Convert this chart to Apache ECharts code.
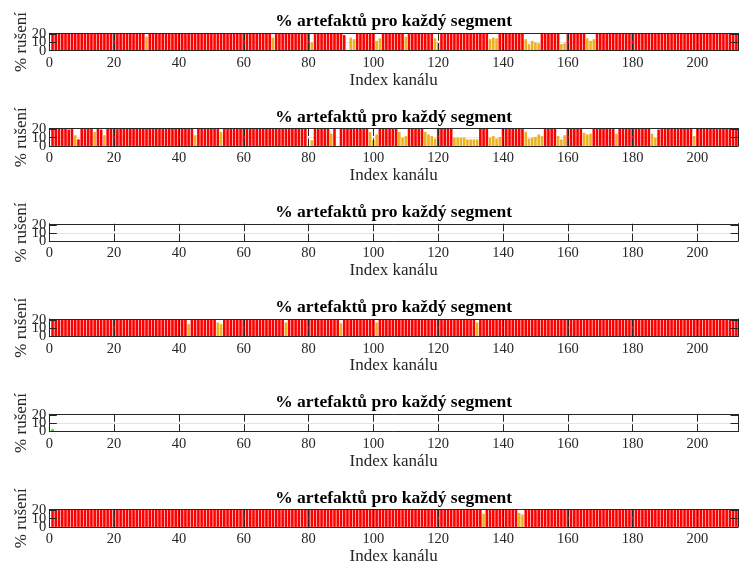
<!DOCTYPE html>
<html><head><meta charset="utf-8">
<script src="https://cdn.jsdelivr.net/npm/echarts@6/dist/echarts.min.js"></script>
<style>html,body{margin:0;padding:0;background:#fff}#c{width:739px;height:569px}</style>
</head><body><div id="c"></div><script>
// ---- data: % of artefacts per channel (index = channel - 1) ----
const titleText = '% artefaktů pro každý segment';
const xLabel = 'Index kanálu';
const yLabel = '% rušení';
const xTicks = [0, 20, 40, 60, 80, 100, 120, 140, 160, 180, 200];
const yTicksOuter = [0, 20];
const yTicksMid = [10];
const refLevel = 10;

const seg1_pct = [
25,25,25,25,25,25,25,25,25,25, 25,25,25,25,25,25,25,25,25,25,
25,25,25,25,25,25,25,25,25,17, 25,25,25,25,25,25,25,25,25,25,
20.5,25,25,25,25,25,25,25,25,20.5, 25,25,25,25,25,25,25,25,25,25,
25,25,25,25,25,25,25,25,16,25, 25,25,25,25,25,25,25,25,25,25,
10,25,25,25,25,25,25,25,25,25, 19,0,16,14,25,25,25,25,25,25,
12,15,25,25,25,25,25,25,25,17, 25,25,25,25,25,25,25,25,15,10,
25,25,25,25,25,25,25,25,25,25, 25,25,25,25,25,14,16,15,25,25,
25,25,25,25,25,25,14,8,12,10, 9,25,25,25,25,25,25,8,9,25,
25,25,25,25,25,15,12,14,25,25, 25,25,25,25,20.5,20.5,25,25,25,25,
25,25,25,25,25,25,25,25,25,25, 25,25,25,25,25,25,25,25,25,25,
25,25,25,25,25,25,25,25,25,25, 25,25];
const seg1_medium = [30,69,81,93,94,101,102,110,119,120,136,137,138,147,148,149,150,151,158,159,166,167,168];
const seg1_low = [];

const seg2_pct = [
25,25,25,25,25,20,25,13,8,25, 25,25,25,17,25,20,13,25,25,25,
20.5,25,25,25,25,25,25,25,25,25, 25,25,25,25,25,25,25,25,25,25,
25,25,25,25,13,25,25,25,25,25, 25,25,17,25,25,25,25,25,25,25,
25,25,25,25,25,25,25,25,25,25, 25,25,25,25,25,25,25,25,25,0,
7,25,25,25,25,25,15,25,0,25, 25,25,25,25,25,25,25,25,17,7,
14,25,25,25,25,25,25,17,10,12, 25,25,25,25,25,17,14,12,9,25,
25,25,25,25,10,10,10,10,8,8, 8,8,25,25,25,10,12,9,11,25,
25,25,25,25,25,25,17,9,10,11, 14,12,25,25,25,25,12,8,13,25,
25,25,25,25,16,14,15,25,25,25, 25,25,25,25,15,25,25,25,25,25,
25,25,25,25,25,15,10,20,25,25, 25,25,25,25,25,25,25,25,12,25,
25,25,25,25,25,25,25,25,25,25, 25,25];
const seg2_medium = [8,14,17,45,53,81,87,99,100,101,108,109,110,116,117,118,119,125,126,127,128,129,130,131,132,136,137,138,139,147,148,149,150,151,152,157,158,159,165,166,167,175,186,187,199];
const seg2_low = [];

const seg3_pct = [
0,0,0,0,0,0,0,0,0,0, 0,0,0,0,0,0,0,0,0,0, 0,0,0,0,0,0,0,0,0,0, 0,0,0,0,0,0,0,0,0,0,
0,0,0,0,0,0,0,0,0,0, 0,0,0,0,0,0,0,0,0,0, 0,0,0,0,0,0,0,0,0,0, 0,0,0,0,0,0,0,0,0,0,
0,0,0,0,0,0,0,0,0,0, 0,0,0,0,0,0,0,0,0,0, 0,0,0,0,0,0,0,0,0,0, 0,0,0,0,0,0,0,0,0,0,
0,0,0,0,0,0,0,0,0,0, 0,0,0,0,0,0,0,0,0,0, 0,0,0,0,0,0,0,0,0,0, 0,0,0,0,0,0,0,0,0,0,
0,0,0,0,0,0,0,0,0,0, 0,0,0,0,0,0,0,0,0,0, 0,0,0,0,0,0,0,0,0,0, 0,0,0,0,0,0,0,0,0,0,
0,0,0,0,0,0,0,0,0,0, 0,0];
const seg3_medium = [];
const seg3_low = [];

const seg4_pct = [
25,25,25,25,25,25,25,25,25,25, 25,25,25,25,25,25,25,25,25,25,
25,25,25,25,25,25,25,25,25,25, 25,25,25,25,25,25,25,25,25,25,
25,25,15,25,25,25,25,25,25,25, 25,17,15,25,25,25,25,25,25,25,
25,25,25,25,25,25,20,25,25,25, 25,25,17,25,25,25,25,25,25,25,
25,25,25,25,25,25,25,25,25,16, 25,25,25,25,25,25,25,25,25,25,
17,25,25,25,25,25,25,25,25,25, 25,25,25,25,25,25,25,25,20,25,
25,25,25,25,25,25,25,25,25,25, 25,17,25,20,25,25,25,25,25,25,
25,25,25,25,25,25,25,25,25,25, 25,25,25,25,25,25,25,25,25,25,
25,25,25,25,25,25,25,25,25,25, 25,25,25,25,25,25,25,25,25,25,
25,25,25,25,25,25,25,25,25,25, 25,25,25,25,25,25,25,25,25,25,
25,25,25,25,25,25,25,25,25,25, 25,25];
const seg4_medium = [43,52,53,73,90,101,132];
const seg4_low = [];

const seg5_pct = [
2.8,0,0,0,0,0,0,0,0,0, 0,0,0,0,0,0,0,0,0,0, 0,0,0,0,0,0,0,0,0,0, 0,0,0,0,0,0,0,0,0,0,
0,0,0,0,0,0,0,0,0,0, 0,0,0,0,0,0,0,0,0,0, 0,0,0,0,0,0,0,0,0,0, 0,0,0,0,0,0,0,0,0,0,
0,0,0,0,0,0,0,0,0,0, 0,0,0,0,0,0,0,0,0,0, 0,0,0,0,0,0,0,0,0,0, 0,0,0,0,0,0,0,0,0,0,
0,0,0,0,0,0,0,0,0,0, 0,0,0,0,0,0,0,0,0,0, 0,0,0,0,0,0,0,0,0,0, 0,0,0,0,0,0,0,0,0,0,
0,0,0,0,0,0,0,0,0,0, 0,0,0,0,0,0,0,0,0,0, 0,0,0,0,0,0,0,0,0,0, 0,0,0,0,0,0,0,0,0,0,
0,0,0,0,0,0,0,0,0,0, 0,0];
const seg5_medium = [];
const seg5_low = [1];

const seg6_pct = [
25,25,25,25,25,25,25,25,25,25, 25,25,25,25,25,25,25,25,25,25,
25,25,25,25,25,25,25,25,25,25, 25,25,25,25,25,25,25,25,25,25,
25,25,25,25,25,25,25,25,25,25, 25,25,25,25,25,25,25,25,25,25,
25,25,25,25,25,25,25,25,25,25, 25,25,25,25,25,25,25,25,25,25,
25,25,25,25,25,25,25,25,25,25, 25,25,25,25,25,25,25,25,25,25,
25,25,25,25,25,25,25,25,25,25, 25,25,25,25,25,25,25,25,25,25,
25,25,25,25,25,25,25,25,25,25, 25,25,25,16,25,25,25,25,25,25,
25,25,25,25,17,15,25,25,25,25, 25,25,25,25,25,25,25,25,25,25,
25,25,25,25,25,25,25,25,25,25, 25,25,25,25,25,25,25,25,25,25,
25,25,25,25,25,25,25,25,25,25, 25,25,25,25,25,25,25,25,25,25,
25,25,25,25,25,25,25,25,25,25, 25,25];
const seg6_medium = [134,145,146];
const seg6_low = [];

// ---- chart ----
const segs = [
  [seg1_pct, seg1_medium, seg1_low],
  [seg2_pct, seg2_medium, seg2_low],
  [seg3_pct, seg3_medium, seg3_low],
  [seg4_pct, seg4_medium, seg4_low],
  [seg5_pct, seg5_medium, seg5_low],
  [seg6_pct, seg6_medium, seg6_low]
];
const FONT = '"Liberation Serif","Times New Roman",serif';
const AX = '#262626';
const xMax = 212.5, yMax = 21.2;
const gLeft = 49.3, gRight = 1, top0 = 33.3, step = 95.24, gH = 17.4;
const pxPerUnit = (739 - gLeft - gRight) / xMax;
const barW = 0.8 * pxPerUnit;
const colors = { H: '#ff0000', M: '#edb120', L: '#00e000' };

const grid = [], xAxis = [], yAxis = [], series = [], title = [];
const lineS = { color: AX, width: 1 };
const tickS = { show: true, inside: true, length: 7.5, lineStyle: { color: AX } };
segs.forEach((s, i) => {
  const top = top0 + step * i;
  grid.push({ left: gLeft, right: gRight, top: top, height: gH, containLabel: false, outerBoundsMode: 'none' });
  title.push({ text: titleText, left: gLeft + (739 - gLeft - gRight) / 2 - 5, top: top - 25.5, textAlign: 'center',
    textStyle: { fontFamily: FONT, fontSize: 17.5, fontWeight: 'bold', color: '#000' } });
  const tickFmt = v => (xTicks.indexOf(v) >= 0 ? String(v) : '');
  xAxis.push({ type: 'value', gridIndex: i, min: 0, max: xMax, interval: 20, position: 'bottom', z: 3,
    name: xLabel, nameLocation: 'middle', nameGap: 21, nameMoveOverlap: false,
    nameTextStyle: { fontFamily: FONT, fontSize: 17, color: AX },
    axisLine: { show: true, onZero: false, lineStyle: lineS },
    axisTick: tickS,
    axisLabel: { show: true, margin: 5, formatter: tickFmt, fontFamily: FONT, fontSize: 14.5, color: AX,
      showMinLabel: true, showMaxLabel: true, hideOverlap: false },
    splitLine: { show: false } });
  xAxis.push({ type: 'value', gridIndex: i, min: 0, max: xMax, interval: 20, position: 'top', z: 3,
    axisLine: { show: true, onZero: false, lineStyle: lineS },
    axisTick: tickS, axisLabel: { show: false }, splitLine: { show: false } });
  const base = yAxis.length;
  // left axis: line, ticks, labels 0 and 20, name
  yAxis.push({ type: 'value', gridIndex: i, min: 0, max: yMax, interval: 10, position: 'left', z: 3,
    name: yLabel, nameLocation: 'middle', nameGap: 19, nameRotate: 90, nameMoveOverlap: false,
    nameTextStyle: { fontFamily: FONT, fontSize: 17, color: AX },
    axisLine: { show: true, onZero: false, lineStyle: lineS },
    axisTick: tickS,
    axisLabel: { show: true, margin: 3, formatter: v => (yTicksOuter.indexOf(v) >= 0 ? String(v) : ''),
      fontFamily: FONT, fontSize: 14.5, color: AX, showMinLabel: true, showMaxLabel: true, hideOverlap: false },
    splitLine: { show: false } });
  // right axis: box side with ticks
  yAxis.push({ type: 'value', gridIndex: i, min: 0, max: yMax, interval: 10, position: 'right', z: 3,
    axisLine: { show: true, onZero: false, lineStyle: lineS },
    axisTick: tickS, axisLabel: { show: false }, splitLine: { show: false } });
  // second left axis carrying the middle tick label only
  yAxis.push({ type: 'value', gridIndex: i, min: 0, max: yMax, interval: 10, position: 'left', offset: 0, z: 3,
    axisLine: { show: false }, axisTick: { show: false },
    axisLabel: { show: true, margin: 3, formatter: v => (yTicksMid.indexOf(v) >= 0 ? String(v) : ''),
      fontFamily: FONT, fontSize: 14.5, color: AX, showMinLabel: true, showMaxLabel: true, hideOverlap: false },
    splitLine: { show: false } });
  const [pct, med, low] = s;
  const lv = { H: [], M: [], L: [] };
  pct.forEach((v, k) => {
    const ch = k + 1;
    if (v <= 0) return;
    const key = med.indexOf(ch) >= 0 ? 'M' : (low.indexOf(ch) >= 0 ? 'L' : 'H');
    lv[key].push([ch, v]);
  });
  ['H', 'M', 'L'].forEach((key, j) => {
    const ser = { type: 'bar', xAxisIndex: 2 * i, yAxisIndex: base, data: lv[key], barWidth: barW,
      barGap: '-100%', z: 2, clip: true, animation: false, silent: true,
      itemStyle: { color: colors[key] } };
    if (j === 0) {
      ser.markLine = { silent: true, symbol: 'none', z: 1, animation: false, label: { show: false },
        lineStyle: { color: '#e3e3e3', width: 1, type: 'solid' }, data: [{ yAxis: refLevel }] };
    }
    series.push(ser);
  });
});

const chart = echarts.init(document.getElementById('c'), null, { renderer: 'canvas' });
chart.setOption({ animation: false, backgroundColor: '#fff', title, grid, xAxis, yAxis, series });
</script></body></html>
